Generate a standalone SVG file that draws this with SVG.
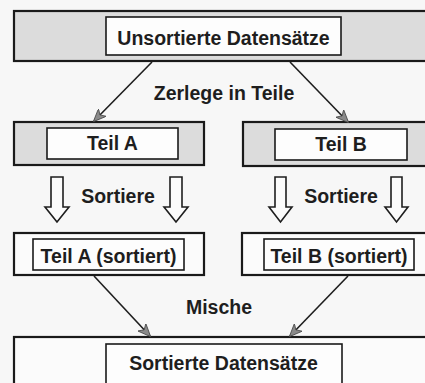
<svg xmlns="http://www.w3.org/2000/svg" width="425" height="383" viewBox="0 0 425 383">
  <defs>
    <marker id="ah" viewBox="0 0 13 11" refX="12" refY="5.5" markerWidth="13" markerHeight="11" markerUnits="userSpaceOnUse" orient="auto">
      <path d="M0,0 L13,5.5 L0,11 L3.5,5.5 Z" fill="#8a8a8a" stroke="#444" stroke-width="0.8"/>
    </marker>
  </defs>
  <style>
    .outer { stroke: #1a1a1a; stroke-width: 2.2; }
    .gray { fill: #dcdcdc; }
    .white { fill: #fbfbfb; }
    .inner { fill: #fdfdfd; stroke: #1a1a1a; stroke-width: 1.6; }
    .t { font-family: "Liberation Sans", Arial, Helvetica, sans-serif; font-weight: bold; font-size: 19.5px; fill: #1e1e1e; text-anchor: middle; }
    .conn { stroke: #1e1e1e; stroke-width: 1.6; fill: none; }
    .hollow { fill: #fbfbfb; stroke: #1e1e1e; stroke-width: 1.6; stroke-linejoin: miter; }
  </style>
  <rect x="0" y="0" width="425" height="383" fill="#f7f7f7"/>

  <g id="unsortiert">
    <rect class="outer gray" x="14" y="11" width="420" height="50"/>
    <rect class="inner" x="106" y="17" width="235" height="38"/>
    <text class="t" x="223.5" y="45">Unsortierte Datensätze</text>
  </g>

  <g id="teilA">
    <rect class="outer gray" x="14" y="122" width="190" height="43"/>
    <rect class="inner" x="47" y="128" width="131" height="31"/>
    <text class="t" x="112.5" y="150">Teil A</text>
  </g>

  <g id="teilB">
    <rect class="outer gray" x="243" y="122" width="190" height="44"/>
    <rect class="inner" x="275" y="129" width="132" height="31"/>
    <text class="t" x="341" y="151">Teil B</text>
  </g>

  <g id="teilA-sortiert">
    <rect class="outer white" x="14" y="233" width="190" height="42"/>
    <rect class="inner" x="33" y="239" width="151" height="31"/>
    <text class="t" x="108.5" y="263">Teil A (sortiert)</text>
  </g>

  <g id="teilB-sortiert">
    <rect class="outer white" x="242" y="233" width="192" height="42"/>
    <rect class="inner" x="264" y="239" width="150" height="31"/>
    <text class="t" x="339" y="263">Teil B (sortiert)</text>
  </g>

  <g id="sortiert">
    <rect class="outer white" x="14" y="337" width="420" height="60"/>
    <rect class="inner" x="106" y="344" width="236" height="45"/>
    <text class="t" x="223.5" y="370">Sortierte Datensätze</text>
  </g>

  <g id="connectors">
    <line class="conn" x1="152" y1="62" x2="94" y2="121" marker-end="url(#ah)"/>
    <line class="conn" x1="290" y1="62" x2="348" y2="122" marker-end="url(#ah)"/>
    <line class="conn" x1="94" y1="276" x2="150" y2="336" marker-end="url(#ah)"/>
    <line class="conn" x1="348" y1="276" x2="290" y2="336" marker-end="url(#ah)"/>
    <path class="hollow" d="M51,177 L63,177 L63,207 L69,207 L57,222 L45,207 L51,207 Z"/>
    <path class="hollow" d="M170,177 L182,177 L182,207 L188,207 L176,222 L164,207 L170,207 Z"/>
    <path class="hollow" d="M275,177 L286,177 L286,207 L292,207 L280.5,222 L269,207 L275,207 Z"/>
    <path class="hollow" d="M391,177 L402,177 L402,207 L408,207 L396.5,222 L385,207 L391,207 Z"/>
  </g>

  <g id="labels">
    <text class="t" x="224" y="100">Zerlege in Teile</text>
    <text class="t" x="118" y="203">Sortiere</text>
    <text class="t" x="341" y="203">Sortiere</text>
    <text class="t" x="219" y="314">Mische</text>
  </g>
</svg>
